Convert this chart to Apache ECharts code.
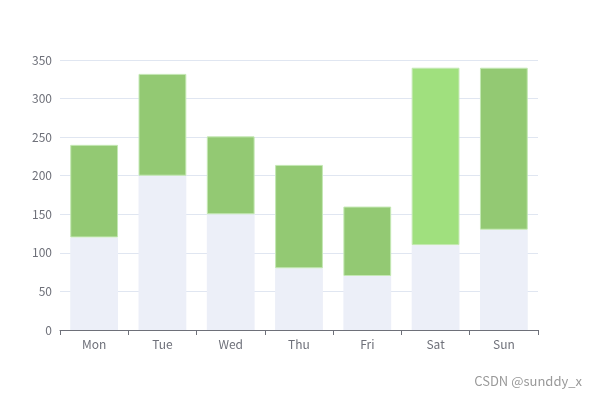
<!DOCTYPE html>
<html>
<head>
<meta charset="utf-8">
<script src="https://cdn.jsdelivr.net/npm/echarts@6/dist/echarts.min.js"></script>
<style>
  html, body { margin: 0; padding: 0; background: #fff; }
  #main { width: 598px; height: 398px; }
</style>
</head>
<body>
<div id="main"></div>
<script>
// 数据
const days = ['Mon', 'Tue', 'Wed', 'Thu', 'Fri', 'Sat', 'Sun']
const baseValues = [120, 200, 150, 80, 70, 110, 130]
const topValues = [120, 132, 101, 134, 90, 230, 210]
const highlightDay = 'Sat'

const chart = echarts.init(document.getElementById('main'))
chart.setOption({
  animation: false,
  textStyle: { fontFamily: '"Noto Sans CJK SC", sans-serif' },
  grid: { left: 60, right: 60, top: 60, bottom: 68 },
  xAxis: {
    type: 'category',
    data: days,
    axisLine: { lineStyle: { color: '#6e7079' } },
    axisTick: { show: true, alignWithLabel: false, lineStyle: { color: '#6e7079' } },
    axisLabel: { color: '#6e7079', fontSize: 12 }
  },
  yAxis: {
    type: 'value',
    min: 0,
    max: 350,
    interval: 50,
    axisLabel: { color: '#6e7079', fontSize: 12 },
    splitLine: { lineStyle: { color: '#e0e6f1' } }
  },
  series: [
    {
      type: 'bar',
      stack: 'total',
      barWidth: '70%',
      data: baseValues,
      itemStyle: { color: '#eceff8' },
      z: 1
    },
    {
      type: 'bar',
      stack: 'total',
      barWidth: '70%',
      // Sat 柱子颜色更浅
      data: topValues.map((v, i) => days[i] === highlightDay
        ? { value: v, itemStyle: { color: '#a0e07e' } }
        : v),
      itemStyle: { color: '#93c973', borderColor: '#c4e8b4', borderWidth: 1 }
    }
  ],
  graphic: [{
    type: 'text',
    right: 16,
    bottom: 10,
    style: { text: 'CSDN @sunddy_x', fill: '#999', fontSize: 13, fontFamily: '"Noto Sans CJK SC", sans-serif' }
  }]
})
</script>
</body>
</html>
